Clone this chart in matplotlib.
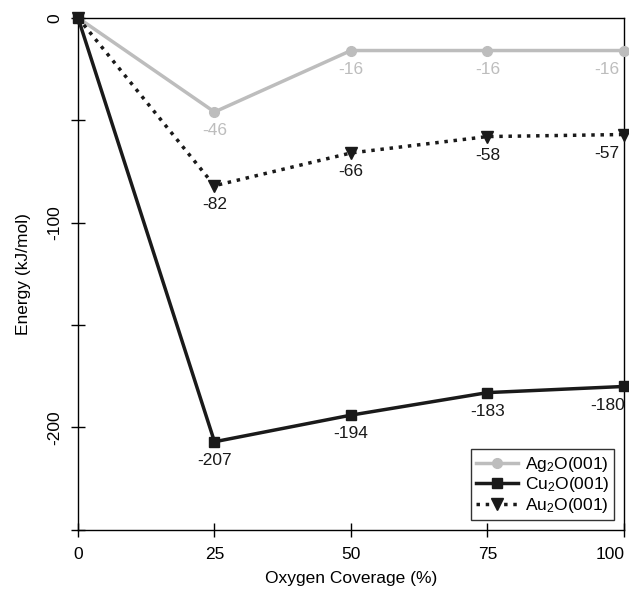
import numpy as np
import matplotlib.pyplot as plt
from matplotlib.transforms import ScaledTranslation

plt.rcParams['font.family'] = ['Liberation Sans', 'DejaVu Sans']
plt.rcParams['mathtext.fontset'] = 'custom'
plt.rcParams['mathtext.rm'] = 'Liberation Sans'
plt.rcParams['mathtext.it'] = 'Liberation Sans'

# данные
coverage = [0, 25, 50, 75, 100]
ag2o = [0, -46, -16, -16, -16]
cu2o = [0, -207, -194, -183, -180]
au2o = [0, -82, -66, -58, -57]

grey = '#bdbdbd'

fig = plt.figure(figsize=(6.29, 5.92), dpi=100)
ax = fig.add_axes([0.124, 0.105, 0.868, 0.865])

ax.plot(coverage, ag2o, '-o', color=grey, lw=2.5, ms=7, label=r'Ag$_2$O(001)', clip_on=False, zorder=3)
ax.plot(coverage, cu2o, '-s', color='#1a1a1a', lw=2.5, ms=7, label=r'Cu$_2$O(001)', clip_on=False, zorder=3)
ax.plot(coverage, au2o, ':v', color='#1a1a1a', lw=2.5, ms=9, label=r'Au$_2$O(001)', clip_on=False, zorder=3)

# подписи значений под точками
for ys, col in [(ag2o, grey), (cu2o, '#1a1a1a'), (au2o, '#1a1a1a')]:
    for i in range(1, len(coverage)):
        dx = -12 if i == len(coverage) - 1 else 0
        ax.annotate(str(ys[i]), (coverage[i], ys[i]), xytext=(dx, -8),
                    textcoords='offset points', ha='center', va='top',
                    fontsize=12.5, color=col)

ax.set_xlim(0, 100)
ax.set_ylim(-250, 0)
ax.set_xticks(coverage)
ax.set_yticks([0, -50, -100, -150, -200, -250])
ax.set_yticklabels(['0', '', '-100', '', '-200', ''], rotation=90, va='center')
ax.tick_params(direction='inout', length=10, width=1, labelsize=12.5)
ax.tick_params(axis='y', pad=6)
ax.tick_params(axis='x', pad=7)

# последняя подпись оси x сдвинута влево
lab = ax.get_xticklabels()[-1]
lab.set_transform(lab.get_transform() + ScaledTranslation(-10 / 72, 0, fig.dpi_scale_trans))

ax.set_xlabel('Oxygen Coverage (%)', fontsize=12.5, labelpad=7)
ax.set_ylabel('Energy (kJ/mol)', fontsize=12.5, labelpad=12)

for s in ax.spines.values():
    s.set_linewidth(1)

leg = ax.legend(loc='lower right', fontsize=12.5, fancybox=False, edgecolor='black',
                borderaxespad=0.55, handlelength=2.4, handletextpad=0.4,
                labelspacing=0.1, borderpad=0.3)
leg.get_frame().set_linewidth(1)

plt.savefig('out.png')
